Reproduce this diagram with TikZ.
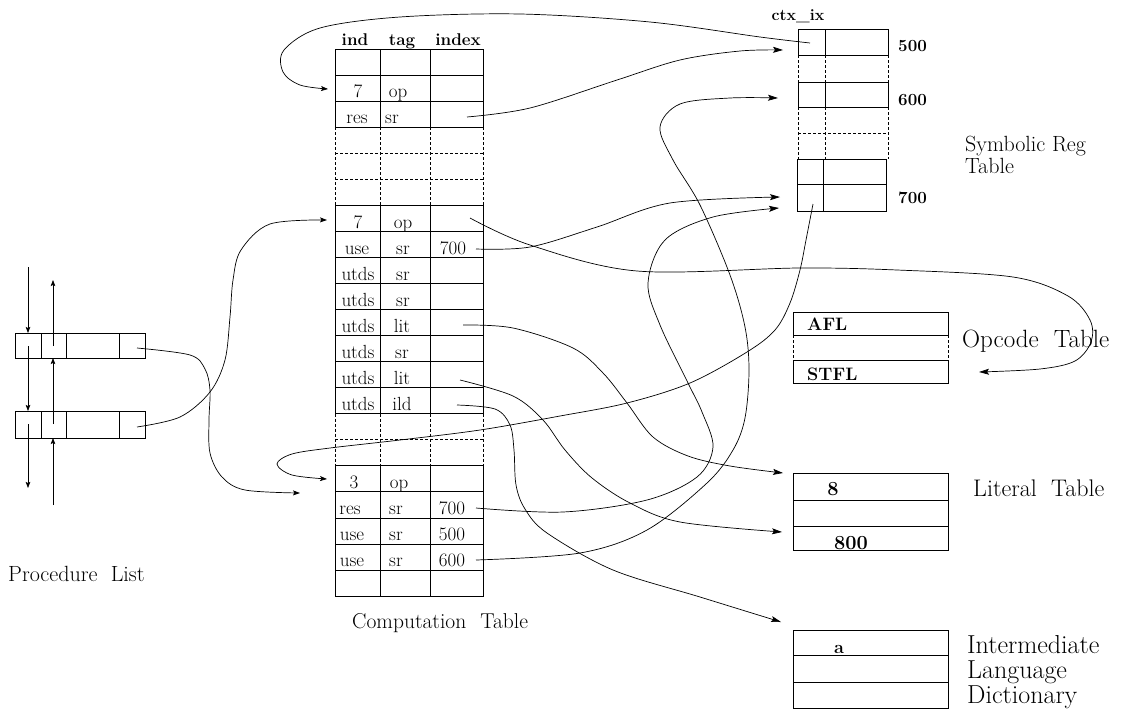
\documentclass[tikz,border=0pt]{standalone}
\usetikzlibrary{arrows.meta}
\tikzset{
  tbl/.style={line width=0.8pt},
  dsh/.style={line width=0.8pt, dash pattern=on 3pt off 2pt},
  ctext/.style={anchor=base, inner sep=0pt, font=\fontsize{19}{21}\selectfont},
  hdr/.style={anchor=base, inner sep=0pt, font=\bfseries\fontsize{17}{19}\selectfont},
  btext/.style={anchor=base, inner sep=0pt, font=\bfseries\fontsize{18}{20}\selectfont},
  lbl/.style={anchor=base west, inner sep=0pt, align=left},
  link/.style={line width=0.7pt, -{Stealth[length=10pt,width=6pt,inset=2pt]}},
  slink/.style={line width=0.7pt, -{Stealth[length=7pt,width=5pt,inset=1.5pt]}},
  plink/.style={line width=0.7pt, -{Stealth[length=6pt,width=4.5pt,inset=1pt]}},
}
\begin{document}
\begin{tikzpicture}[x=1pt,y=-1pt]
\useasboundingbox[fill=white] (0,0) rectangle (1129,715);

% ================= Computation table =================
\node[hdr] (hind) at (355,45) {ind};
\node[hdr] (htag) at (402,45) {tag};
\node[hdr] (hidx) at (458,45) {index};
% rows 0-2 solid
\draw[tbl] (335,49) rectangle (483,127.15);
\foreach \y in {75.05,101.1} \draw[tbl] (335,\y) -- (483,\y);
\foreach \x in {380,430} \draw[tbl] (\x,49) -- (\x,127.15);
% rows 3-5 dashed
\foreach \x in {335,380,430,483} \draw[dsh] (\x,127.15) -- (\x,205.3);
\foreach \y in {153.2,179.25} \draw[dsh] (335,\y) -- (483,\y);
% rows 6-13 solid
\draw[tbl] (335,205.3) rectangle (483,413.7);
\foreach \y in {231.35,257.4,283.45,309.5,335.55,361.6,387.65} \draw[tbl] (335,\y) -- (483,\y);
\foreach \x in {380,430} \draw[tbl] (\x,205.3) -- (\x,413.7);
% rows 14-15 dashed
\foreach \x in {335,380,430,483} \draw[dsh] (\x,413.7) -- (\x,465.8);
\draw[dsh] (335,439.75) -- (483,439.75);
% rows 16-20 solid
\draw[tbl] (335,465.8) rectangle (483,596.05);
\foreach \y in {491.85,517.9,543.95,570} \draw[tbl] (335,\y) -- (483,\y);
\foreach \x in {380,430} \draw[tbl] (\x,465.8) -- (\x,596.05);

\node[ctext] (a1) at (358,97.5) {7};   \node[ctext] (b1) at (398,97.5) {op};
\node[ctext] (a2) at (357,123.5) {res}; \node[ctext] (b2) at (392,123.5) {sr};
\node[ctext] (a6) at (358,228) {7};    \node[ctext] (b6) at (403,228) {op};
\node[ctext] (a7) at (357,254) {use};  \node[ctext] (b7) at (403,254) {sr};  \node[ctext] (c7) at (453,254) {700};
\node[ctext] (a8) at (358,280) {utds}; \node[ctext] (b8) at (403,280) {sr};
\node[ctext] (a9) at (358,306) {utds}; \node[ctext] (b9) at (403,306) {sr};
\node[ctext] (a10) at (358,332) {utds}; \node[ctext] (b10) at (402,332) {lit};
\node[ctext] (a11) at (358,358) {utds}; \node[ctext] (b11) at (402,358) {sr};
\node[ctext] (a12) at (358,384) {utds}; \node[ctext] (b12) at (402,384) {lit};
\node[ctext] (a13) at (358,410) {utds}; \node[ctext] (b13) at (402,410) {ild};
\node[ctext] (a16) at (354,488.5) {3};  \node[ctext] (b16) at (399,488.5) {op};
\node[ctext] (a17) at (350,514.5) {res}; \node[ctext] (b17) at (396,514.5) {sr}; \node[ctext] (c17) at (452,514.5) {700};
\node[ctext] (a18) at (352,540.5) {use}; \node[ctext] (b18) at (396,540.5) {sr}; \node[ctext] (c18) at (452,540.5) {500};
\node[ctext] (a19) at (352,566.5) {use}; \node[ctext] (b19) at (396,566.5) {sr}; \node[ctext] (c19) at (452,566.5) {600};

\node[lbl, font=\fontsize{21.5}{24}\selectfont] (ctlabel) at (352,628) {Computation\hspace{0.35em} Table};

% ================= Symbolic Reg Table =================
\node[anchor=base, inner sep=0pt, font=\bfseries\fontsize{16}{18}\selectfont] (ctx) at (798,20) {ctx\_ix};
\draw[tbl] (798,29) rectangle (888,55); \draw[tbl] (825,29) -- (825,55);
\foreach \x in {798,825,888} \draw[dsh] (\x,55) -- (\x,82);
\draw[tbl] (798,82) rectangle (888,107); \draw[tbl] (825,82) -- (825,107);
\foreach \x in {798,825,888} \draw[dsh] (\x,107) -- (\x,159);
\draw[dsh] (798,133) -- (888,133);
\draw[tbl] (797,159) rectangle (886,211); \draw[tbl] (797,184) -- (886,184); \draw[tbl] (823,159) -- (823,211);
\node[anchor=base west, inner sep=0pt, font=\bfseries\fontsize{17}{19}\selectfont] (n500) at (898,51) {500};
\node[anchor=base west, inner sep=0pt, font=\bfseries\fontsize{17}{19}\selectfont] (n600) at (898,105) {600};
\node[anchor=base west, inner sep=0pt, font=\bfseries\fontsize{17}{19}\selectfont] (n700) at (898,203) {700};
\node[lbl, font=\fontsize{22}{22}\selectfont] (srlabel) at (965,173) {Symbolic Reg\\Table};

% ================= Opcode Table =================
\draw[tbl] (793,312) rectangle (948,335);
\foreach \x in {793,948} \draw[dsh] (\x,335) -- (\x,360);
\draw[tbl] (793,360) rectangle (948,383);
\node[btext, anchor=base west] (afl) at (807,330) {AFL};
\node[btext, anchor=base west] (stfl) at (807,380) {STFL};
\node[lbl, font=\fontsize{25}{27}\selectfont] (oplabel) at (962,347) {Opcode\hspace{0.6em}Table};

% ================= Literal Table =================
\draw[tbl] (793,473) rectangle (948,550);
\draw[tbl] (793,500) -- (948,500); \draw[tbl] (793,526) -- (948,526);
\node[btext, font=\bfseries\fontsize{20}{22}\selectfont] (l8) at (833,495) {8};
\node[btext, font=\bfseries\fontsize{20}{22}\selectfont] (l800) at (851,549) {800};
\node[lbl, font=\fontsize{24}{26}\selectfont] (litlabel) at (973,496) {Literal\hspace{0.6em}Table};

% ================= IL Dictionary =================
\draw[tbl] (793,630) rectangle (948,708);
\draw[tbl] (793,655) -- (948,655); \draw[tbl] (793,682) -- (948,682);
\node[btext] (ila) at (839,653) {a};
\node[lbl, font=\fontsize{26}{25}\selectfont] (illabel) at (967,703) {Intermediate\\Language\\Dictionary};

% ================= Procedure List =================
\draw[tbl] (15,333) rectangle (145,358);
\foreach \x in {41,66,119} \draw[tbl] (\x,333) -- (\x,358);
\draw[tbl] (15,411) rectangle (145,438);
\foreach \x in {41,66,119} \draw[tbl] (\x,411) -- (\x,438);
\node[lbl, font=\fontsize{22}{24}\selectfont] (pllabel) at (8,581) {Procedure\hspace{0.3em} List};

\coordinate (pd0) at (28,267);  \coordinate (pd1t) at (28,333);
\coordinate (pd1) at (28,346);  \coordinate (pd2t) at (28,411);
\coordinate (pd2) at (28,424);  \coordinate (pd3) at (28,488);
\coordinate (pu0) at (53,280);  \coordinate (pu1) at (53,346);
\coordinate (pu1b) at (53,358); \coordinate (pu2) at (53,424);
\coordinate (pu2b) at (53,438); \coordinate (pu3) at (53,505);
\draw[plink] (pd0) -- (pd1t);
\draw[plink] (pd1) -- (pd2t);
\draw[plink] (pd2) -- (pd3);
\draw[plink] (pu1) -- (pu0);
\draw[plink] (pu2) -- (pu1b);
\draw[plink] (pu3) -- (pu2b);

\coordinate (pl1) at (137,348);
\coordinate (pl2) at (137,427);

% ================= connector end points =================
\coordinate (sr500) at (810,43);
\coordinate (sr700c) at (813,204);
\coordinate (in1) at (328,89);
\coordinate (in6) at (327,220);
\coordinate (in16) at (327,479);
\coordinate (in16b) at (300,493);
\coordinate (x2) at (467,117);
\coordinate (x6) at (470,218);
\coordinate (x7) at (476,249);
\coordinate (x10) at (463,325);
\coordinate (x12) at (460,380);
\coordinate (x13) at (457,405);
\coordinate (x17) at (476,508);
\coordinate (x19) at (476,560);
\coordinate (t500) at (783,50);
\coordinate (t600) at (778,98);
\coordinate (t700a) at (780,197);
\coordinate (t700b) at (779,208);
\coordinate (tstfl) at (979,372);
\coordinate (tlit) at (783,473);
\coordinate (t800) at (782,532);
\coordinate (til) at (781,622);

% ================= connectors =================
\draw[slink] plot[smooth, tension=0.55] coordinates {(sr500) (760,37) (650,22) (520,14) (400,17) (320,28) (284,50) (283,72) (300,85) (in1)};
\draw[link] plot[smooth, tension=0.55] coordinates {(x2) (530,108) (617,80) (680,60) (740,51) (t500)};
\draw[link] plot[smooth, tension=0.55] coordinates {(x7) (530,247) (597,227) (670,203) (t700a)};
\draw[link] plot[smooth, tension=0.55] coordinates {(x6) (530,245) (637,271) (800,268) (897,270) (1013,277) (1068,296) (1090,320) (1091,342) (1075,361) (1040,369) (tstfl)};
\draw[link] plot[smooth, tension=0.55] coordinates {(x10) (513,328) (573,348) (603,373) (627,403) (653,437) (688,456) (730,466) (tlit)};
\draw[link] plot[smooth, tension=0.55] coordinates {(x12) (513,396) (543,420) (565,450) (592,478) (630,503) (680,522) (t800)};
\draw[link] plot[smooth, tension=0.55] coordinates {(x13) (495,409) (510,425) (514,450) (516,485) (525,509) (547,533) (613,570) (700,597) (til)};
\draw[link] plot[smooth, tension=0.55] coordinates {(x17) (563,512) (647,500) (697,477) (713,447) (702,412) (688,383) (660,325) (648,283) (665,240) (713,217) (t700b)};
\draw[link] plot[smooth, tension=0.55] coordinates {(x19) (580,553) (647,530) (707,483) (733,450) (745,418) (749,370) (745,327) (730,275) (700,205) (673,160) (660,127) (680,104) (730,98) (t600)};
\draw[slink] plot[smooth, tension=0.55] coordinates {(sr700c) (806,240) (800,270) (790,303) (775,330) (747,352) (690,383) (627,403) (560,416) (480,430) (400,440) (330,448) (292,454) (277,464) (292,475) (in16)};
\draw[slink] plot[smooth, tension=0.55] coordinates {(pl1) (190,355) (205,369) (210,390) (209,420) (210,453) (222,477) (245,490) (in16b)};
\draw[slink] plot[smooth, tension=0.55] coordinates {(pl2) (180,417) (210,392) (225,360) (230,317) (233,280) (241,250) (270,224) (in6)};
\end{tikzpicture}
\end{document}
